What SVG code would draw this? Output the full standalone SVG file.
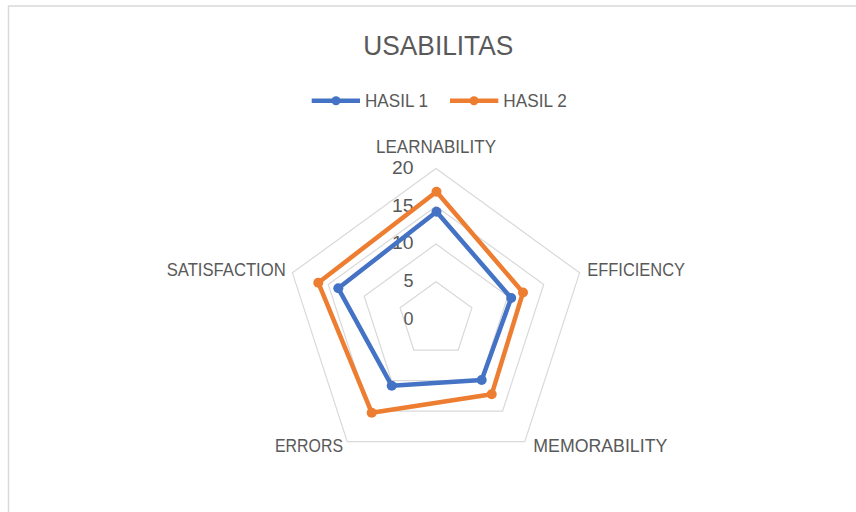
<svg xmlns="http://www.w3.org/2000/svg" width="856" height="512" viewBox="0 0 856 512">
  <style>
    text { font-family: "Liberation Sans", Arial, sans-serif; fill: #595959; }
    .lbl { font-size: 18px; }
    .num { font-size: 18px; text-anchor: end; }
    .grid { fill: none; stroke: #d9d9d9; stroke-width: 1.2; }
    .s1 { fill: none; stroke: #4472C4; stroke-width: 4.5; stroke-linejoin: round; }
    .s2 { fill: none; stroke: #ED7D31; stroke-width: 4.5; stroke-linejoin: round; }
    .m1 { fill: #4472C4; }
    .m2 { fill: #ED7D31; }
  </style>
  <rect x="0" y="0" width="856" height="512" fill="#ffffff"/>
  <rect id="frame" x="8.5" y="6" width="860" height="520" fill="none" stroke="#d9d9d9" stroke-width="1.5"/>

  <g id="title">
    <text x="363.3" y="54.5" font-size="28" textLength="150" lengthAdjust="spacingAndGlyphs">USABILITAS</text>
  </g>

  <g id="legend">
    <g id="legend-hasil1">
      <line x1="311.7" y1="100.7" x2="360" y2="100.7" stroke="#4472C4" stroke-width="4.5"/>
      <circle class="m1" cx="336" cy="100.7" r="4.5"/>
      <text class="lbl" x="365" y="106.8" textLength="63" lengthAdjust="spacingAndGlyphs">HASIL 1</text>
    </g>
    <g id="legend-hasil2">
      <line x1="450" y1="100.7" x2="498.3" y2="100.7" stroke="#ED7D31" stroke-width="4.5"/>
      <circle class="m2" cx="474" cy="100.7" r="4.5"/>
      <text class="lbl" x="503.3" y="106.8" textLength="63.4" lengthAdjust="spacingAndGlyphs">HASIL 2</text>
    </g>
  </g>

  <g id="grid">
    <polygon class="grid" points="436,281.75 471.9,307.83 458.19,350.04 413.81,350.04 400.1,307.83"/>
    <polygon class="grid" points="436,244 507.81,296.17 480.38,380.58 391.62,380.58 364.19,296.17"/>
    <polygon class="grid" points="436,206.25 543.71,284.51 502.57,411.12 369.43,411.12 328.29,284.51"/>
    <polygon class="grid" points="436,168.5 579.61,272.84 524.76,441.66 347.24,441.66 292.39,272.84"/>
  </g>

  <g id="axis-values">
    <text class="num" x="413.5" y="174.3" textLength="21.5" lengthAdjust="spacingAndGlyphs">20</text>
    <text class="num" x="413.5" y="211.8" textLength="21.5" lengthAdjust="spacingAndGlyphs">15</text>
    <text class="num" x="413.5" y="249.3" textLength="21.5" lengthAdjust="spacingAndGlyphs">10</text>
    <text class="num" x="413.5" y="286.8">5</text>
    <text class="num" x="413.5" y="324.5">0</text>
  </g>

  <g id="category-labels">
    <text id="lbl-learnability" class="lbl" x="376" y="152.8" textLength="120" lengthAdjust="spacingAndGlyphs">LEARNABILITY</text>
    <text id="lbl-efficiency" class="lbl" x="587.3" y="275.6" textLength="97.7" lengthAdjust="spacingAndGlyphs">EFFICIENCY</text>
    <text id="lbl-memorability" class="lbl" x="533.3" y="451.7" textLength="134" lengthAdjust="spacingAndGlyphs">MEMORABILITY</text>
    <text id="lbl-errors" class="lbl" x="275" y="451.7" textLength="68" lengthAdjust="spacingAndGlyphs">ERRORS</text>
    <text id="lbl-satisfaction" class="lbl" x="166.7" y="276.2" textLength="119" lengthAdjust="spacingAndGlyphs">SATISFACTION</text>
  </g>

  <g id="series-hasil2">
    <polygon class="s2" points="436.5,191.7 523,292.5 491.7,394.3 371.7,412.7 318.3,282.7"/>
    <circle class="m2" cx="436.5" cy="191.7" r="5"/>
    <circle class="m2" cx="523" cy="292.5" r="5"/>
    <circle class="m2" cx="491.7" cy="394.3" r="5"/>
    <circle class="m2" cx="371.7" cy="412.7" r="5"/>
    <circle class="m2" cx="318.3" cy="282.7" r="5"/>
  </g>

  <g id="series-hasil1">
    <polygon class="s1" points="436.5,211.7 511.2,298 481.7,380 391.7,385.7 338.3,288.3"/>
    <circle class="m1" cx="436.5" cy="211.7" r="5"/>
    <circle class="m1" cx="511.2" cy="298" r="5"/>
    <circle class="m1" cx="481.7" cy="380" r="5"/>
    <circle class="m1" cx="391.7" cy="385.7" r="5"/>
    <circle class="m1" cx="338.3" cy="288.3" r="5"/>
  </g>
</svg>
